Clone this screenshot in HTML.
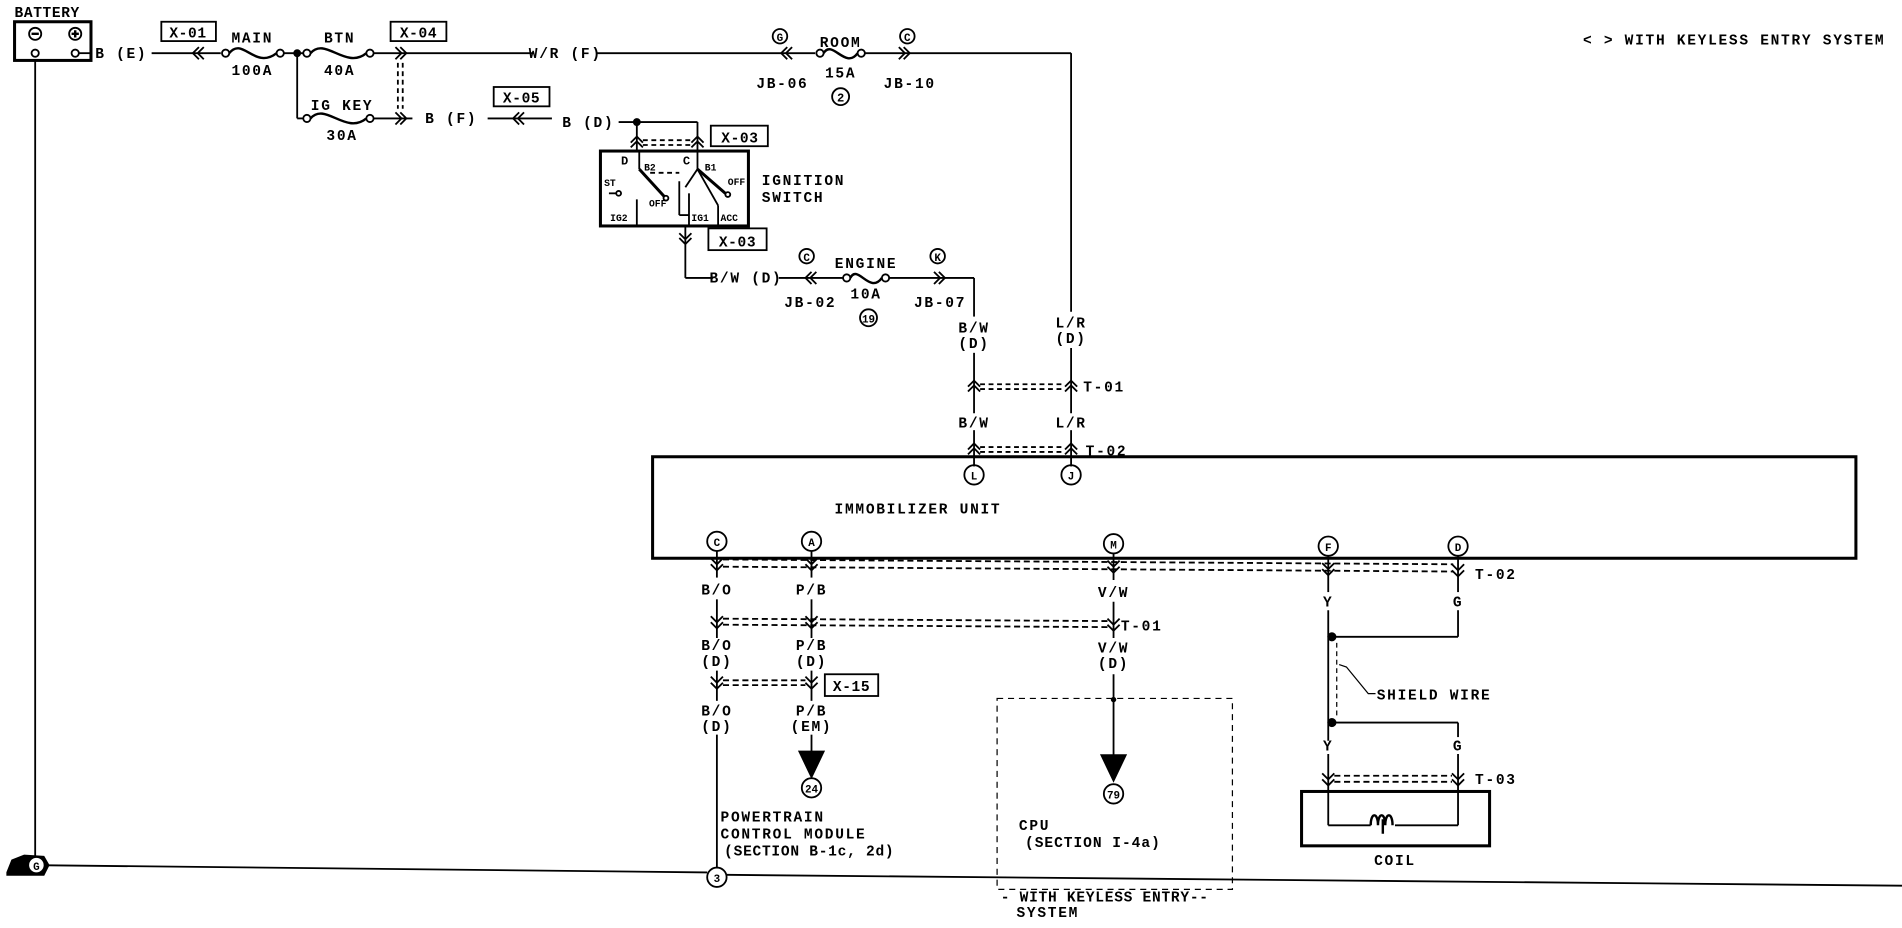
<!DOCTYPE html>
<html><head><meta charset="utf-8"><style>
html,body{margin:0;padding:0;background:#fff;}
svg{display:block;}
text{font-family:"Liberation Mono","DejaVu Sans Mono",monospace;font-size:12px;letter-spacing:1.4px;fill:#000;font-weight:bold;}
.m{text-anchor:middle;}
</style></head><body>
<svg width="1902" height="928" viewBox="0 0 1568 768" preserveAspectRatio="none" xmlns="http://www.w3.org/2000/svg">
<g stroke="#000" fill="none" stroke-width="1.5">
<rect x="12" y="18" width="63" height="32" stroke-width="2.5"/>
<circle cx="29" cy="28" r="5"/><circle cx="62" cy="28" r="5"/>
<path d="M26 28 L32 28 M59 28 L65 28 M62 25 L62 31" stroke-width="2"/>
<circle cx="29" cy="44" r="3"/><circle cx="62" cy="44" r="3"/>
<line x1="29" y1="50" x2="29" y2="716"/>
<line x1="65" y1="44" x2="76" y2="44"/>
<line x1="125" y1="44" x2="182" y2="44"/>
<rect x="133" y="18" width="45" height="16"/>
<path d="M164 39 L159 44 L164 49 M168 39 L163 44 L168 49"/>
<circle cx="186" cy="44" r="3"/><circle cx="231" cy="44" r="3"/>
<path d="M189 44 C200 30 210 58 228 44" stroke-width="2"/>
<line x1="234" y1="44" x2="250" y2="44"/>
<circle cx="245" cy="44" r="2.5" fill="#000"/>
<circle cx="253" cy="44" r="3"/><circle cx="305" cy="44" r="3"/>
<path d="M256 44 C268 30 285 58 302 44" stroke-width="2"/>
<line x1="308" y1="44" x2="440" y2="44"/>
<rect x="322" y="18" width="46" height="16"/>
<path d="M326 39 L331 44 L326 49 M330 39 L335 44 L330 49"/>
<line x1="328" y1="52" x2="328" y2="90" stroke-dasharray="4,3"/>
<line x1="332" y1="52" x2="332" y2="90" stroke-dasharray="4,3"/>
<line x1="492" y1="44" x2="672" y2="44"/>
<path d="M649 39 L644 44 L649 49 M653 39 L648 44 L653 49"/>
<circle cx="643" cy="30" r="6"/>
<circle cx="676" cy="44" r="3"/><circle cx="710" cy="44" r="3"/>
<path d="M679 44 C686 32 697 58 707 44" stroke-width="2"/>
<circle cx="693" cy="80" r="7"/>
<line x1="713" y1="44" x2="883" y2="44"/>
<path d="M741 39 L746 44 L741 49 M745 39 L750 44 L745 49"/>
<circle cx="748" cy="30" r="6"/>
<line x1="883" y1="44" x2="883" y2="258"/>
<line x1="245" y1="44" x2="245" y2="98"/>
<line x1="245" y1="98" x2="250" y2="98"/>
<circle cx="253" cy="98" r="3"/><circle cx="305" cy="98" r="3"/>
<path d="M256 98 C268 84 285 112 302 98" stroke-width="2"/>
<line x1="308" y1="98" x2="340" y2="98"/>
<path d="M326 93 L331 98 L326 103 M330 93 L335 98 L330 103"/>
<line x1="402" y1="98" x2="455" y2="98"/>
<rect x="407" y="72" width="46" height="16"/>
<path d="M428 93 L423 98 L428 103 M432 93 L427 98 L432 103"/>
<line x1="510" y1="101" x2="575" y2="101"/>
<circle cx="525" cy="101" r="2.5" fill="#000"/>
<line x1="525" y1="101" x2="525" y2="125"/><line x1="575" y1="101" x2="575" y2="125"/>
<path d="M520 118 L525 113 L530 118 M520 122 L525 117 L530 122 M570 118 L575 113 L580 118 M570 122 L575 117 L580 122"/>
<line x1="530" y1="116" x2="570" y2="116" stroke-dasharray="4,3"/>
<line x1="530" y1="120" x2="570" y2="120" stroke-dasharray="4,3"/>
<rect x="586" y="104" width="47" height="17"/>
<rect x="495" y="125" width="122" height="62" stroke-width="2.5"/>
<line x1="527" y1="125" x2="527" y2="140"/>
<line x1="527" y1="140" x2="548" y2="163" stroke-width="2.5"/>
<circle cx="549" cy="164" r="2"/>
<line x1="536" y1="143" x2="560" y2="143" stroke-dasharray="4,3"/>
<line x1="575" y1="125" x2="575" y2="140"/>
<line x1="575" y1="140" x2="598" y2="160" stroke-width="2.5"/>
<line x1="575" y1="140" x2="565" y2="155"/>
<line x1="575" y1="140" x2="592" y2="170"/>
<circle cx="600" cy="161" r="2"/>
<line x1="560" y1="150" x2="560" y2="178"/><line x1="560" y1="178" x2="568" y2="178"/>
<line x1="568" y1="160" x2="568" y2="187"/>
<line x1="592" y1="170" x2="592" y2="187"/>
<line x1="525" y1="165" x2="525" y2="187"/>
<line x1="502" y1="160" x2="508" y2="160"/><circle cx="510" cy="160" r="2"/>
<line x1="565" y1="187" x2="565" y2="230"/><line x1="565" y1="230" x2="588" y2="230"/>
<path d="M560 193 L565 198 L570 193 M560 197 L565 202 L570 197"/>
<rect x="584" y="189" width="48" height="18"/>
<line x1="642" y1="230" x2="695" y2="230"/>
<path d="M669 225 L664 230 L669 235 M673 225 L668 230 L673 235"/>
<circle cx="665" cy="212" r="6"/>
<circle cx="698" cy="230" r="3"/><circle cx="730" cy="230" r="3"/>
<path d="M701 230 C707 218 717 244 727 230" stroke-width="2"/>
<circle cx="716" cy="263" r="7"/>
<line x1="733" y1="230" x2="803" y2="230"/>
<path d="M770 225 L775 230 L770 235 M774 225 L779 230 L774 235"/>
<circle cx="773" cy="212" r="6"/>
<line x1="803" y1="230" x2="803" y2="262"/>
<line x1="803" y1="292" x2="803" y2="342"/><line x1="883" y1="288" x2="883" y2="342"/>
<path d="M798 320 L803 315 L808 320 M798 324 L803 319 L808 324 M878 320 L883 315 L888 320 M878 324 L883 319 L888 324"/>
<line x1="808" y1="318" x2="878" y2="318" stroke-dasharray="4,3"/>
<line x1="808" y1="322" x2="878" y2="322" stroke-dasharray="4,3"/>
<line x1="803" y1="356" x2="803" y2="386"/><line x1="883" y1="356" x2="883" y2="386"/>
<path d="M798 372 L803 367 L808 372 M798 376 L803 371 L808 376 M878 372 L883 367 L888 372 M878 376 L883 371 L888 376"/>
<line x1="808" y1="370" x2="878" y2="370" stroke-dasharray="4,3"/>
<line x1="808" y1="374" x2="878" y2="374" stroke-dasharray="4,3"/>
<rect x="538" y="378" width="992" height="84" stroke-width="2.5"/>
<circle cx="803" cy="393" r="8"/><circle cx="883" cy="393" r="8"/>
<circle cx="591" cy="448" r="8"/><circle cx="669" cy="448" r="8"/><circle cx="918" cy="450" r="8"/><circle cx="1095" cy="452" r="8"/><circle cx="1202" cy="452" r="8"/>
<line x1="596" y1="463" x2="1198" y2="467" stroke-dasharray="5,3"/>
<line x1="596" y1="469" x2="1198" y2="473" stroke-dasharray="5,3"/>
<path d="M586 462 L591 467 L596 462 M586 467 L591 472 L596 467"/>
<path d="M664 462 L669 467 L674 462 M664 467 L669 472 L674 467"/>
<path d="M913 464 L918 469 L923 464 M913 469 L918 474 L923 469"/>
<path d="M1090 466 L1095 471 L1100 466 M1090 471 L1095 476 L1100 471"/>
<path d="M1197 467 L1202 472 L1207 467 M1197 472 L1202 477 L1207 472"/>
<line x1="591" y1="456" x2="591" y2="478"/><line x1="669" y1="456" x2="669" y2="478"/><line x1="918" y1="458" x2="918" y2="480"/>
<line x1="1095" y1="460" x2="1095" y2="490"/><line x1="1202" y1="460" x2="1202" y2="490"/>
<line x1="591" y1="496" x2="591" y2="528"/><line x1="669" y1="496" x2="669" y2="528"/><line x1="918" y1="498" x2="918" y2="528"/>
<path d="M586 510 L591 515 L596 510 M586 515 L591 520 L596 515 M664 510 L669 515 L674 510 M664 515 L669 520 L674 515 M913 512 L918 517 L923 512 M913 517 L918 522 L923 517"/>
<line x1="596" y1="512" x2="913" y2="514" stroke-dasharray="5,3"/>
<line x1="596" y1="517" x2="913" y2="519" stroke-dasharray="5,3"/>
<line x1="591" y1="555" x2="591" y2="580"/><line x1="669" y1="555" x2="669" y2="580"/>
<path d="M586 560 L591 565 L596 560 M586 565 L591 570 L596 565 M664 560 L669 565 L674 560 M664 565 L669 570 L674 565"/>
<line x1="596" y1="563" x2="664" y2="563" stroke-dasharray="5,3"/>
<line x1="596" y1="567" x2="664" y2="567" stroke-dasharray="5,3"/>
<rect x="680" y="558" width="44" height="18"/>
<line x1="591" y1="608" x2="591" y2="718"/>
<line x1="669" y1="608" x2="669" y2="622"/>
<path d="M659 622 L679 622 L669 643 Z" fill="#000"/>
<circle cx="669" cy="652" r="8"/>
<line x1="918" y1="558" x2="918" y2="625"/>
<circle cx="918" cy="579" r="1.5" fill="#000"/>
<path d="M908 625 L928 625 L918 646 Z" fill="#000"/>
<circle cx="918" cy="657" r="8"/>
<rect x="822" y="578" width="194" height="158" stroke-dasharray="5,4" stroke-width="1"/>
<line x1="1095" y1="505" x2="1095" y2="613"/>
<line x1="1202" y1="505" x2="1202" y2="527"/>
<line x1="1098" y1="527" x2="1202" y2="527"/>
<circle cx="1098" cy="527" r="3" fill="#000"/>
<line x1="1098" y1="598" x2="1202" y2="598"/>
<circle cx="1098" cy="598" r="3" fill="#000"/>
<line x1="1202" y1="598" x2="1202" y2="610"/>
<line x1="1102" y1="532" x2="1102" y2="594" stroke-dasharray="4,3" stroke-width="1"/>
<path d="M1104 550 L1110 552 L1128 574 L1134 574" stroke-width="1"/>
<line x1="1095" y1="624" x2="1095" y2="683"/><line x1="1202" y1="624" x2="1202" y2="683"/>
<line x1="1095" y1="683" x2="1130" y2="683"/><line x1="1150" y1="683" x2="1202" y2="683"/>
<path d="M1130 683 C1130 672 1136 672 1136 683 C1136 672 1142 672 1142 683 C1142 672 1148 672 1148 683 M1140 678 L1140 690" stroke-width="2"/>
<path d="M1090 640 L1095 645 L1100 640 M1090 645 L1095 650 L1100 645 M1197 640 L1202 645 L1207 640 M1197 645 L1202 650 L1207 645"/>
<line x1="1100" y1="642" x2="1197" y2="642" stroke-dasharray="5,3"/>
<line x1="1100" y1="647" x2="1197" y2="647" stroke-dasharray="5,3"/>
<rect x="1073" y="655" width="155" height="45" stroke-width="2.5"/>
<line x1="30" y1="716" x2="583" y2="722"/>
<line x1="599" y1="724" x2="1568" y2="733"/>
<circle cx="591" cy="726" r="8"/>
<path d="M6 722 L10 712 L20 708 L36 709 L40 716 L36 724 L6 724 Z" fill="#000"/>
</g>
<circle cx="30" cy="716" r="6" fill="#fff"/>
<text x="30" y="720" class="m" style="font-size:9px;letter-spacing:0">G</text>
<g>
<text x="12" y="14" style="letter-spacing:0.5px">BATTERY</text>
<text x="100" y="48" class="m">B (E)</text>
<text x="155" y="31" class="m" style="letter-spacing:0.5px">X-01</text>
<text x="208" y="35" class="m">MAIN</text>
<text x="208" y="62" class="m">100A</text>
<text x="280" y="35" class="m">BTN</text>
<text x="280" y="62" class="m">40A</text>
<text x="345" y="31" class="m" style="letter-spacing:0.5px">X-04</text>
<text x="466" y="48" class="m">W/R (F)</text>
<text x="643" y="34" class="m" style="font-size:9px;letter-spacing:0">G</text>
<text x="645" y="73" class="m">JB-06</text>
<text x="693" y="39" class="m">ROOM</text>
<text x="693" y="64" class="m">15A</text>
<text x="693" y="84" class="m" style="font-size:10px;letter-spacing:0">2</text>
<text x="748" y="34" class="m" style="font-size:9px;letter-spacing:0">C</text>
<text x="750" y="73" class="m">JB-10</text>
<text x="1305" y="37">&lt; &gt; WITH KEYLESS ENTRY SYSTEM</text>
<text x="282" y="91" class="m">IG KEY</text>
<text x="282" y="116" class="m">30A</text>
<text x="372" y="102" class="m">B (F)</text>
<text x="430" y="85" class="m" style="letter-spacing:0.5px">X-05</text>
<text x="485" y="105" class="m">B (D)</text>
<text x="610" y="118" class="m" style="letter-spacing:0.5px">X-03</text>
<text x="512" y="136" style="font-size:10px;letter-spacing:0">D</text>
<text x="563" y="136" style="font-size:10px;letter-spacing:0">C</text>
<text x="531" y="141" style="font-size:8px;letter-spacing:0">B2</text>
<text x="581" y="141" style="font-size:8px;letter-spacing:0">B1</text>
<text x="498" y="154" style="font-size:8px;letter-spacing:0">ST</text>
<text x="600" y="153" style="font-size:8px;letter-spacing:0">OFF</text>
<text x="535" y="171" style="font-size:8px;letter-spacing:0">OFF</text>
<text x="503" y="183" style="font-size:8px;letter-spacing:0">IG2</text>
<text x="570" y="183" style="font-size:8px;letter-spacing:0">IG1</text>
<text x="594" y="183" style="font-size:8px;letter-spacing:0">ACC</text>
<text x="628" y="153">IGNITION</text>
<text x="628" y="167">SWITCH</text>
<text x="608" y="204" class="m" style="letter-spacing:0.5px">X-03</text>
<text x="615" y="234" class="m">B/W (D)</text>
<text x="665" y="216" class="m" style="font-size:9px;letter-spacing:0">C</text>
<text x="668" y="254" class="m">JB-02</text>
<text x="714" y="222" class="m">ENGINE</text>
<text x="714" y="247" class="m">10A</text>
<text x="716" y="267" class="m" style="font-size:9px;letter-spacing:0">19</text>
<text x="773" y="216" class="m" style="font-size:9px;letter-spacing:0">K</text>
<text x="775" y="254" class="m">JB-07</text>
<text x="803" y="275" class="m">B/W</text>
<text x="803" y="288" class="m">(D)</text>
<text x="883" y="271" class="m">L/R</text>
<text x="883" y="284" class="m">(D)</text>
<text x="893" y="324">T-01</text>
<text x="803" y="354" class="m">B/W</text>
<text x="883" y="354" class="m">L/R</text>
<text x="895" y="377">T-02</text>
<text x="803" y="397" class="m" style="font-size:9px;letter-spacing:0">L</text>
<text x="883" y="397" class="m" style="font-size:9px;letter-spacing:0">J</text>
<text x="688" y="425">IMMOBILIZER UNIT</text>
<text x="591" y="452" class="m" style="font-size:9px;letter-spacing:0">C</text>
<text x="669" y="452" class="m" style="font-size:9px;letter-spacing:0">A</text>
<text x="918" y="454" class="m" style="font-size:9px;letter-spacing:0">M</text>
<text x="1095" y="456" class="m" style="font-size:9px;letter-spacing:0">F</text>
<text x="1202" y="456" class="m" style="font-size:9px;letter-spacing:0">D</text>
<text x="1216" y="479">T-02</text>
<text x="591" y="492" class="m">B/O</text>
<text x="669" y="492" class="m">P/B</text>
<text x="918" y="494" class="m">V/W</text>
<text x="1095" y="502" class="m">Y</text>
<text x="1202" y="502" class="m">G</text>
<text x="924" y="522">T-01</text>
<text x="591" y="538" class="m">B/O</text>
<text x="591" y="551" class="m">(D)</text>
<text x="669" y="538" class="m">P/B</text>
<text x="669" y="551" class="m">(D)</text>
<text x="918" y="540" class="m">V/W</text>
<text x="918" y="553" class="m">(D)</text>
<text x="702" y="572" class="m" style="letter-spacing:0.5px">X-15</text>
<text x="591" y="592" class="m">B/O</text>
<text x="591" y="605" class="m">(D)</text>
<text x="669" y="592" class="m">P/B</text>
<text x="669" y="605" class="m">(EM)</text>
<text x="669" y="656" class="m" style="font-size:9px;letter-spacing:0">24</text>
<text x="918" y="661" class="m" style="font-size:9px;letter-spacing:0">79</text>
<text x="594" y="680">POWERTRAIN</text>
<text x="594" y="694">CONTROL MODULE</text>
<text x="597" y="708" style="letter-spacing:0.6px">(SECTION B-1c, 2d)</text>
<text x="840" y="687">CPU</text>
<text x="845" y="701" style="letter-spacing:0.8px">(SECTION I-4a)</text>
<text x="591" y="730" class="m" style="font-size:9px;letter-spacing:0">3</text>
<text x="825" y="746" style="letter-spacing:0.6px">- WITH KEYLESS ENTRY--</text>
<text x="838" y="759">SYSTEM</text>
<text x="1135" y="579">SHIELD WIRE</text>
<text x="1095" y="621" class="m">Y</text>
<text x="1202" y="621" class="m">G</text>
<text x="1216" y="649">T-03</text>
<text x="1150" y="716" class="m">COIL</text>
</g>
</svg>
</body></html>
